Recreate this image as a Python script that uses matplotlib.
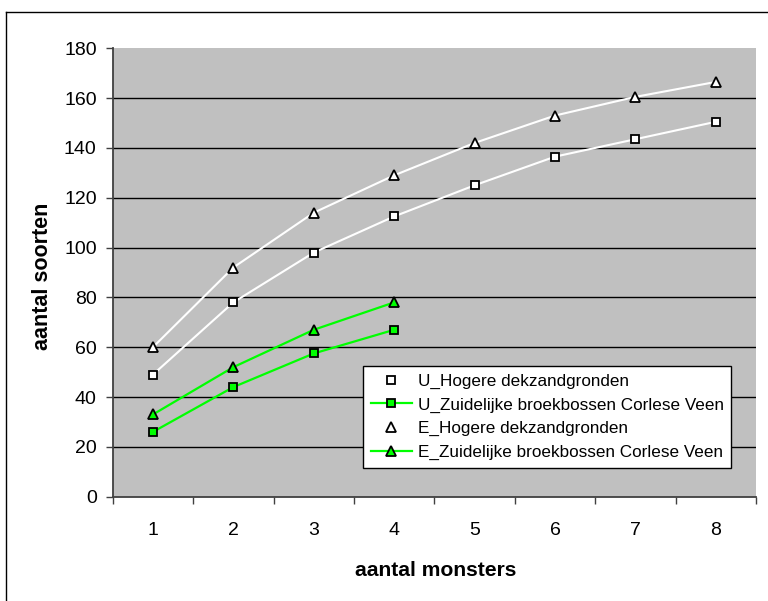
import matplotlib
matplotlib.use("Agg")
import matplotlib.pyplot as plt
from matplotlib.lines import Line2D

plt.rcParams['font.family'] = ['Liberation Sans', 'DejaVu Sans']

categories = [1, 2, 3, 4, 5, 6, 7, 8]
u_hogere = [49, 78, 98, 112.5, 125, 136.5, 143.5, 150.5]
u_zuid = [26, 44, 57.5, 67]
e_hogere = [60, 92, 114, 129, 142, 153, 160.5, 166.5]
e_zuid = [33, 52, 67, 78]
labels = ["U_Hogere dekzandgronden",
          "U_Zuidelijke broekbossen Corlese Veen",
          "E_Hogere dekzandgronden",
          "E_Zuidelijke broekbossen Corlese Veen"]
yticks = [0, 20, 40, 60, 80, 100, 120, 140, 160, 180]

W, H = 768, 601
fig = plt.figure(figsize=(W / 100, H / 100), dpi=100)
ax = fig.add_axes([112.7 / W, (H - 496.7) / H, 643.3 / W, 448.4 / H])
ax.set_facecolor('#C0C0C0')

green = '#00FF00'
ax.plot(categories, u_hogere, color='white', lw=1.5, marker='s', ms=6.3,
        mfc='white', mec='black', mew=1.3, label=labels[0], zorder=4)
ax.plot(categories[:len(u_zuid)], u_zuid, color=green, lw=1.6, marker='s', ms=6.3,
        mfc=green, mec='black', mew=1.3, label=labels[1], zorder=4)
ax.plot(categories, e_hogere, color='white', lw=1.5, marker='^', ms=7.5,
        mfc='white', mec='black', mew=1.3, label=labels[2], zorder=4)
ax.plot(categories[:len(e_zuid)], e_zuid, color=green, lw=1.6, marker='^', ms=7.5,
        mfc=green, mec='black', mew=1.3, label=labels[3], zorder=4)

ax.set_xlim(0.5, len(categories) + 0.5)
ax.set_ylim(0, 180)

# gridlines
for v in yticks[1:-1]:
    ax.axhline(v, color='black', lw=1.0, zorder=1)

ax.set_yticks(yticks)
ax.set_yticklabels([str(v) for v in yticks], fontsize=14)
ax.tick_params(axis='y', direction='out', length=5, width=1, pad=6.5, color='#404040')

ax.set_xticks([c - 0.5 for c in categories] + [len(categories) + 0.5])
ax.set_xticklabels([])
ax.set_xticks(categories, minor=True)
ax.set_xticklabels([str(c) for c in categories], minor=True, fontsize=14)
ax.tick_params(axis='x', which='major', direction='out', length=5, width=1, color='#404040')
ax.tick_params(axis='x', which='minor', length=0, pad=18)

for s in ['top', 'right']:
    ax.spines[s].set_visible(False)
for s in ['left', 'bottom']:
    ax.spines[s].set_color('#404040')
    ax.spines[s].set_linewidth(1.3)

leg = ax.legend(loc='upper left', bbox_to_anchor=(363.3 / W, (H - 366) / H),
                bbox_transform=fig.transFigure, borderaxespad=0, fontsize=12.3,
                frameon=True, fancybox=False, framealpha=1, edgecolor='black',
                borderpad=0.45, labelspacing=0.5, handlelength=2.4,
                handletextpad=0.33)
leg.get_frame().set_linewidth(1.0)
leg.set_zorder(10)

fig.text(435.5 / W, (H - 570.7) / H, 'aantal monsters', ha='center', va='center',
         fontsize=15.2, fontweight='bold')
fig.text(43 / W, (H - 276.7) / H, 'aantal soorten', ha='center', va='center',
         rotation=90, fontsize=15.5, fontweight='bold')

# outer chart frame (partially cropped)
fig.add_artist(Line2D([6 / W, 6 / W], [0, (H - 12) / H], color='black', lw=1.0,
                      transform=fig.transFigure))
fig.add_artist(Line2D([6 / W, 1], [(H - 12) / H, (H - 12) / H], color='black', lw=1.0,
                      transform=fig.transFigure))

fig.savefig('out.png', dpi=100)
